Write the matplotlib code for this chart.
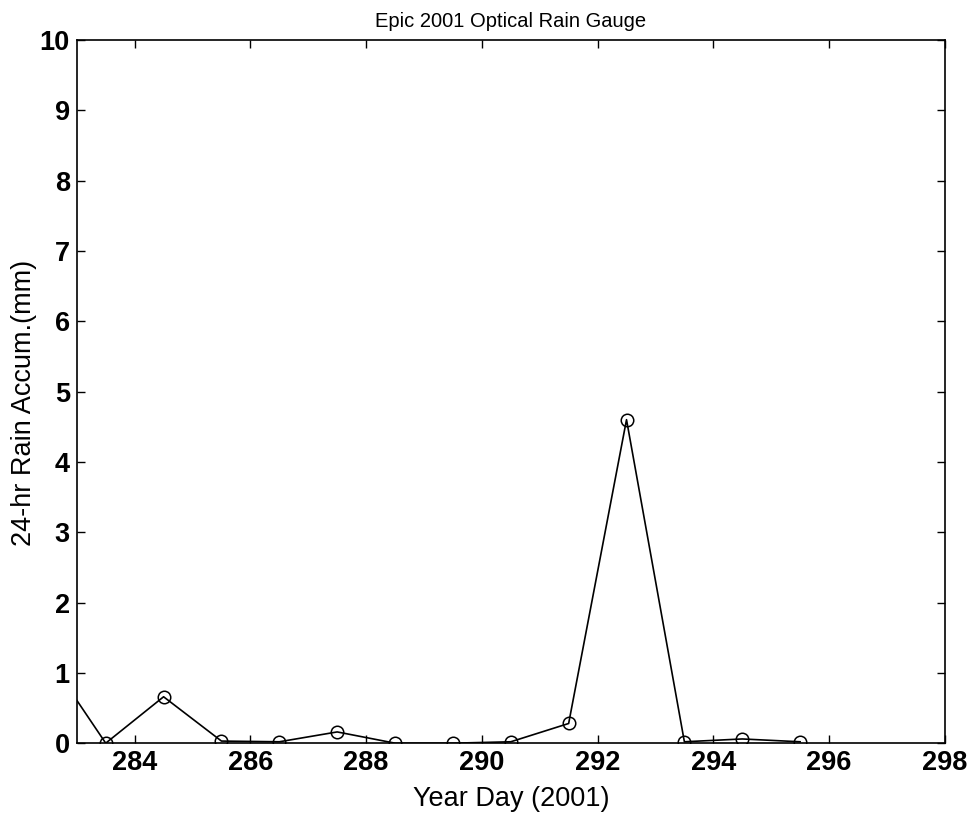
import matplotlib
matplotlib.use("Agg")
import matplotlib.pyplot as plt

days = [282.5, 283.5, 284.5, 285.5, 286.5, 287.5, 288.5, 289.5, 290.5, 291.5, 292.5, 293.5, 294.5, 295.5]
rain = [1.22, 0.0, 0.66, 0.03, 0.02, 0.16, 0.0, 0.0, 0.02, 0.28, 4.6, 0.02, 0.06, 0.02]
xticks = [284, 286, 288, 290, 292, 294, 296, 298]
yticks = list(range(0, 11))

plt.rcParams['font.family'] = ['Liberation Sans', 'DejaVu Sans']
fig = plt.figure(figsize=(9.72, 8.14), dpi=100)
ax = fig.add_axes([0.079, 0.087, 0.893, 0.864])
ax.plot(days, rain, color='black', lw=1.2, marker='o', ms=9, mfc='none', mec='black', mew=1.1)
ax.set_xlim(283, 298)
ax.set_ylim(0, 10)
ax.set_xticks(xticks)
ax.set_yticks(yticks)
ax.tick_params(direction='in', top=True, right=True, length=6, labelsize=19.5, width=1, pad=5)
for lab in ax.get_xticklabels() + ax.get_yticklabels():
    lab.set_fontweight('bold')
ax.set_xlabel('Year Day (2001)', fontsize=19.5, labelpad=7)
ax.set_ylabel('24-hr Rain Accum.(mm)', fontsize=19.5)
ax.yaxis.set_label_coords(-0.046, 0.484)
ax.set_title('Epic 2001 Optical Rain Gauge', fontsize=14.5, pad=9)
for s in ax.spines.values():
    s.set_linewidth(1.2)
fig.savefig('out.png', dpi=100)
